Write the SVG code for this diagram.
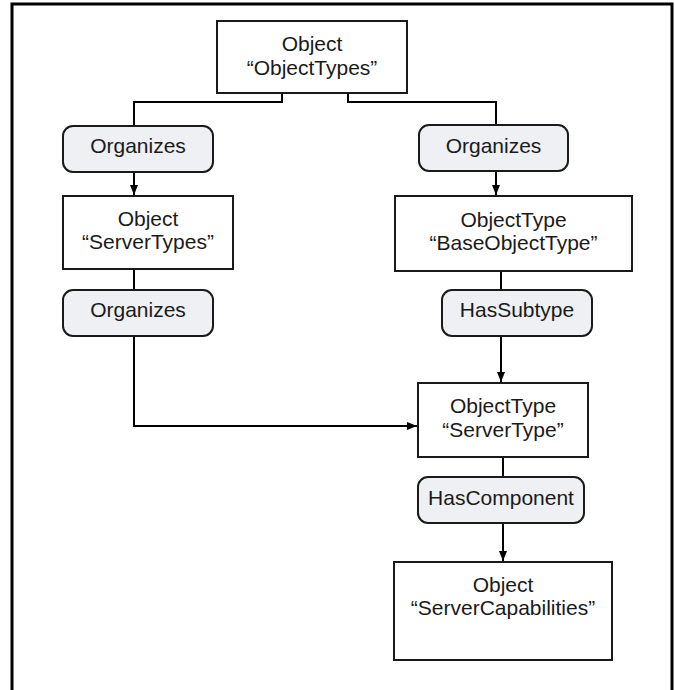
<svg xmlns="http://www.w3.org/2000/svg" width="675" height="690" viewBox="0 0 675 690">
<style>
.box{fill:#ffffff;stroke:#1a1a1a;stroke-width:2}
.ref{fill:#eef0f4;stroke:#1a1a1a;stroke-width:2}
.t{font-family:"Liberation Sans",Arial,sans-serif;font-size:21px;fill:#1a1a1a;text-anchor:middle}
.c{fill:none;stroke:#000;stroke-width:2}
</style>
<defs>
<marker id="ah" viewBox="0 0 10 8" refX="10" refY="4" markerWidth="10" markerHeight="8" markerUnits="userSpaceOnUse" orient="auto">
<path d="M0,0 L10,4 L0,8 Z" fill="#000"/>
</marker>
</defs>
<path d="M12,690 V4 H672 V690" fill="none" stroke="#000" stroke-width="3"/>
<g id="connectors">
<path class="c" d="M282,93 V102 H134 V126"/>
<path class="c" d="M348,93 V102 H496 V125"/>
<path class="c" d="M134,172 V195" marker-end="url(#ah)"/>
<path class="c" d="M496,171 V195" marker-end="url(#ah)"/>
<path class="c" d="M134,269 V290"/>
<path class="c" d="M134,336 V426 H417" marker-end="url(#ah)"/>
<path class="c" d="M501,271 V290"/>
<path class="c" d="M501,336 V382" marker-end="url(#ah)"/>
<path class="c" d="M503,457 V477"/>
<path class="c" d="M503,523 V561" marker-end="url(#ah)"/>
</g>
<g id="objectTypes">
<rect class="box" x="217" y="21" width="190" height="72"/>
<text class="t" x="312" y="51">Object</text>
<text class="t" x="312" y="75">“ObjectTypes”</text>
</g>
<g id="organizes1">
<rect class="ref" x="63" y="126" width="150" height="46" rx="10"/>
<text class="t" x="138" y="153">Organizes</text>
</g>
<g id="organizes2">
<rect class="ref" x="419" y="125" width="149" height="46" rx="10"/>
<text class="t" x="493.5" y="153">Organizes</text>
</g>
<g id="serverTypes">
<rect class="box" x="63" y="196" width="170" height="73"/>
<text class="t" x="148" y="226">Object</text>
<text class="t" x="148" y="249">“ServerTypes”</text>
</g>
<g id="baseObjectType">
<rect class="box" x="395" y="196" width="237" height="75"/>
<text class="t" x="513.5" y="227">ObjectType</text>
<text class="t" x="513.5" y="250">“BaseObjectType”</text>
</g>
<g id="organizes3">
<rect class="ref" x="63" y="290" width="150" height="46" rx="10"/>
<text class="t" x="138" y="317">Organizes</text>
</g>
<g id="hasSubtype">
<rect class="ref" x="442" y="290" width="150" height="46" rx="10"/>
<text class="t" x="517" y="317">HasSubtype</text>
</g>
<g id="serverType">
<rect class="box" x="418" y="383" width="170" height="74"/>
<text class="t" x="503" y="413">ObjectType</text>
<text class="t" x="503" y="437">“ServerType”</text>
</g>
<g id="hasComponent">
<rect class="ref" x="418" y="477" width="166" height="46" rx="10"/>
<text class="t" x="501" y="505">HasComponent</text>
</g>
<g id="serverCapabilities">
<rect class="box" x="394" y="562" width="218" height="98"/>
<text class="t" x="503" y="592">Object</text>
<text class="t" x="503" y="615">“ServerCapabilities”</text>
</g>
</svg>
